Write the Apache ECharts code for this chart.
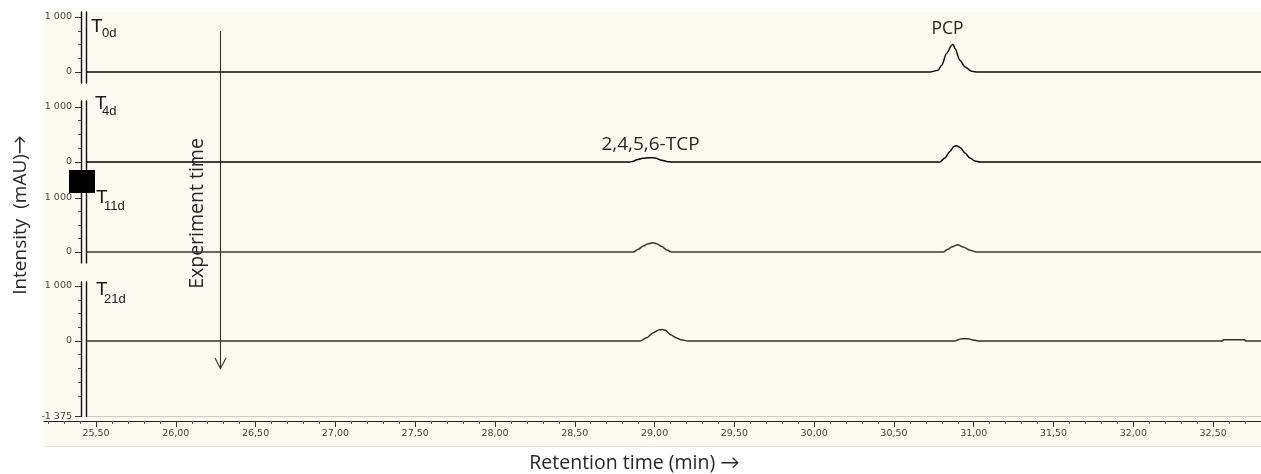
<!DOCTYPE html>
<html>
<head>
<meta charset="utf-8">
<script src="https://cdn.jsdelivr.net/npm/echarts@6/dist/echarts.min.js"></script>
<style>html,body{margin:0;padding:0;background:#fff;}#c{width:1261px;height:474px;}</style>
</head>
<body>
<div id="c"></div>
<script>
// ---- data (retention time in min, intensity in mAU) ----
const panelNames = ['T', 'T', 'T', 'T'];
const panelSubs = ['0d', '4d', '11d', '21d'];
const t0dTrace = [[25.437,0],[30.725,0],[30.776,31],[30.799,122],[30.830,340],[30.862,485],[30.870,504],[30.882,430],[30.913,213],[30.945,91],[30.987,13],[31.026,0],[32.80,0]];
const t4dTrace = [[25.437,0],[28.846,0],[28.868,14],[28.888,42],[28.927,67],[28.971,78],[29.002,73],[29.045,30],[29.084,6],[29.107,0],[30.788,0],[30.819,73],[30.851,193],[30.876,284],[30.893,296],[30.914,265],[30.945,164],[30.976,73],[31.008,18],[31.039,0],[32.80,0]];
const t11dTrace = [[25.437,0],[28.866,0],[28.898,50],[28.929,111],[28.961,154],[28.988,172],[29.013,154],[29.045,100],[29.076,37],[29.107,0],[30.809,0],[30.835,44],[30.862,91],[30.899,135],[30.934,91],[30.976,31],[31.018,0],[32.80,0]];
const t21dTrace = [[25.437,0],[28.909,0],[28.950,61],[28.992,152],[29.030,205],[29.050,208],[29.070,190],[29.100,115],[29.138,55],[29.165,22],[29.211,0],[30.882,0],[30.903,24],[30.924,42],[30.945,42],[30.966,42],[30.987,24],[31.028,0],[32.559,0],[32.565,22],[32.698,22],[32.703,0],[32.80,0]];
const traces = [t0dTrace, t4dTrace, t11dTrace, t21dTrace];
const traceColors = ['#111111', '#050505', '#383838', '#333333'];
const yMajorTicks = [[0,1000],[0,1000],[0,1000],[-1375,0,1000]];
const yMinorTicks = [[250,500,750],[250,500,750],[250,500,750],[-1000,-750,-500,-250,250,500,750]];
const xMajorTicks = [25.5,26,26.5,27,27.5,28,28.5,29,29.5,30,30.5,31,31.5,32,32.5];
const peakLabels = ['PCP', '2,4,5,6-TCP'];
const xTitle = 'Retention time (min) \u2192';
const yTitle = 'Intensity  (mAU)\u2192';
const arrowTitle = 'Experiment time';

// ---- layout ----
const panels = [
  {top: 12, height: 71, min: -200, max: 1091},
  {top: 101, height: 72, min: -200, max: 1109},
  {top: 189, height: 74, min: -204, max: 1167},
  {top: 282, height: 134.6, min: -1375, max: 1073}
];
const X_MIN = 25.437, X_MAX = 32.80, X_AXIS_MIN = 25.174;
const xMinorTicks = [];
for (let v = 252; v <= 328; v++) { if (v % 5 !== 0) xMinorTicks.push(v / 10); }

const fmtY = v => {
  if (v === 0) return '0';
  const s = Math.abs(v).toString();
  const t = s.length > 3 ? s.slice(0, s.length - 3) + ' ' + s.slice(-3) : s;
  return (v < 0 ? '-' : '') + t;
};
const fmtX = v => v.toFixed(2).replace('.', ',');

const grid = [], xAxis = [], yAxis = [], series = [];
panels.forEach((p, i) => {
  grid.push({left: 86, right: 0, top: p.top, height: p.height});
  xAxis.push({type: 'value', gridIndex: i, min: X_MIN, max: X_MAX, show: false});
  const inner = yAxis.length;
  yAxis.push({type: 'value', gridIndex: i, min: p.min, max: p.max, position: 'left', offset: 0,
    axisLine: {show: true, lineStyle: {color: '#111', width: 1.4}}, axisTick: {show: false}, axisLabel: {show: false}, splitLine: {show: false}});
  yAxis.push({type: 'value', gridIndex: i, min: p.min, max: p.max, position: 'left', offset: 5,
    axisLine: {show: true, lineStyle: {color: '#111', width: 1.4}},
    axisTick: {show: true, length: 6, customValues: yMajorTicks[i], lineStyle: {color: '#333'}},
    axisLabel: {show: true, customValues: yMajorTicks[i], formatter: fmtY, margin: 9, fontFamily: 'DejaVu Sans', fontSize: 9.5, color: '#444'},
    splitLine: {show: false}});
  yAxis.push({type: 'value', gridIndex: i, min: p.min, max: p.max, position: 'left', offset: 5,
    axisLine: {show: false},
    axisTick: {show: true, length: 3, customValues: yMinorTicks[i], lineStyle: {color: '#555'}},
    axisLabel: {show: false}, splitLine: {show: false}});
  series.push({type: 'line', xAxisIndex: i, yAxisIndex: inner, data: traces[i], showSymbol: false, symbol: 'none',
    smooth: 0.3, smoothMonotone: 'x', lineStyle: {color: traceColors[i], width: 1.5}, silent: true});
});
// bottom time axis: major ticks + labels
grid.push({left: 44, right: 0, top: 420, height: 1});
xAxis.push({type: 'value', gridIndex: 4, min: X_AXIS_MIN, max: X_MAX, position: 'bottom',
  axisLine: {show: true, lineStyle: {color: '#222', width: 1.2}},
  axisTick: {show: true, length: 6, customValues: xMajorTicks, lineStyle: {color: '#333'}},
  axisLabel: {show: true, customValues: xMajorTicks, formatter: fmtX, margin: 8, fontFamily: 'DejaVu Sans', fontSize: 9.5, color: '#444'},
  splitLine: {show: false}});
yAxis.push({type: 'value', gridIndex: 4, show: false, min: 0, max: 1});
// minor ticks
grid.push({left: 44, right: 0, top: 420, height: 1});
xAxis.push({type: 'value', gridIndex: 5, min: X_AXIS_MIN, max: X_MAX, position: 'bottom',
  axisLine: {show: false},
  axisTick: {show: true, length: 3, customValues: xMinorTicks, lineStyle: {color: '#555'}},
  axisLabel: {show: false}, splitLine: {show: false}});
yAxis.push({type: 'value', gridIndex: 5, show: false, min: 0, max: 1});

const bigFont = '"Open Sans", Lato, sans-serif';
const txt = (x, y, text, size, opts) => Object.assign({type: 'text', x: x, y: y, silent: true,
  style: {text: text, x: 0, y: 0, font: size + 'px ' + (opts && opts.family || bigFont), fill: (opts && opts.fill) || '#262626',
    textAlign: (opts && opts.align) || 'center', textVerticalAlign: 'middle', align: (opts && opts.align) || 'center', verticalAlign: 'middle'}},
  opts && opts.rotation ? {rotation: opts.rotation} : {});

const labelFont = {family: '"Liberation Sans", Arial, sans-serif', align: 'left', fill: '#1a1a1a'};
const tPos = [[91, 26.5, 102, 33], [95, 103.5, 102, 111.5], [96, 198, 104, 206.5], [96, 289.5, 104, 299]];
const graphic = [
  {type: 'rect', shape: {x: 44, y: 12, width: 1217, height: 435}, style: {fill: '#fcf9f1'}, z: -10, silent: true},
  {type: 'line', shape: {x1: 86, y1: 416.5, x2: 1261, y2: 416.5}, style: {stroke: '#c9d1c1', lineWidth: 1}, silent: true},
  {type: 'line', shape: {x1: 44, y1: 446.5, x2: 1261, y2: 446.5}, style: {stroke: '#e6e8da', lineWidth: 1}, silent: true},
  {type: 'polyline', shape: {points: [[220.5, 31], [220.5, 368]]}, style: {stroke: '#333', lineWidth: 1.1, fill: null}, silent: true},
  {type: 'polyline', shape: {points: [[215, 358], [220.5, 368.5], [226, 358]]}, style: {stroke: '#333', lineWidth: 1.1, fill: null}, silent: true},
  {type: 'rect', shape: {x: 69, y: 170, width: 26, height: 23}, style: {fill: '#000'}, z: 100, silent: true},
  txt(947.5, 29, peakLabels[0], 17.5),
  txt(650.5, 144.5, peakLabels[1], 19),
  txt(197, 213.5, arrowTitle, 19.5, {rotation: Math.PI / 2}),
  txt(21, 215, yTitle, 19, {rotation: Math.PI / 2}),
  txt(634.5, 463, xTitle, 19.5)
];
panelNames.forEach((n, i) => {
  const p = tPos[i];
  graphic.push(txt(p[0], p[1], n, 19, labelFont));
  graphic.push(txt(p[2], p[3], panelSubs[i], 13, labelFont));
});

const chart = echarts.init(document.getElementById('c'), null, {renderer: 'canvas'});
chart.setOption({
  animation: false,
  backgroundColor: '#ffffff',
  grid: grid, xAxis: xAxis, yAxis: yAxis, series: series,
  graphic: graphic
});
</script>
</body>
</html>
